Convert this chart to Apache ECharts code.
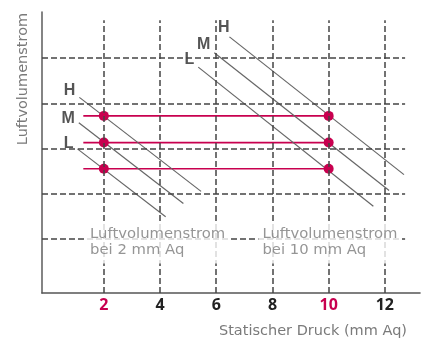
<!DOCTYPE html>
<html>
<head>
<meta charset="utf-8">
<script src="https://cdn.jsdelivr.net/npm/echarts@6/dist/echarts.min.js"></script>
<style>
  html, body { margin: 0; padding: 0; background: #fff; }
  #box { width: 421px; height: 339px; }
</style>
</head>
<body>
<div id="box"></div>
<script>
// ticks and grid levels
const xTicks = [2, 4, 6, 8, 10, 12];
const highlightTicks = [2, 10];
const flowLevels = [1, 2, 3, 4, 5];

// fan speeds and measured flow at the two pressures (red lines)
const speeds = ["H", "M", "L"];
const flowAt2 = [3.72, 3.13, 2.55];
const redStart = 1.27;
const pressurePoints = [2, 10];

// fan curves: [start, end] for the small unit (left) and big unit (right)
const smallH = [[1.13, 4.13], [5.46, 2.05]];
const smallM = [[1.11, 3.57], [4.83, 1.78]];
const smallL = [[1.06, 2.99], [4.20, 1.49]];
const bigH = [[6.47, 5.47], [12.68, 2.42]];
const bigM = [[5.93, 5.12], [12.15, 2.07]];
const bigL = [[5.36, 4.80], [11.59, 1.72]];

const RED = "#c8004f";
const GRID = "#444";
const FONT = "DejaVu Sans";

let myChart = echarts.init(document.getElementById("box"));

// dashed grid, drawn as mark lines so they stop short of the axis ends
let gridLines = [];
xTicks.forEach((x) => {
  gridLines.push([{ coord: [x, -0.2] }, { coord: [x, 5.84] }]);
});
flowLevels.forEach((y) => {
  gridLines.push([{ coord: [-0.2, y] }, { coord: [12.72, y] }]);
});

function curve(pts, name, offset) {
  return {
    type: "line",
    z: 3,
    silent: true,
    symbol: "circle",
    symbolSize: 0,
    showSymbol: true,
    lineStyle: { color: "#666", width: 1.2 },
    itemStyle: { color: "#666" },
    data: [
      {
        value: pts[0],
        label: {
          show: true,
          position: "left",
          distance: 4,
          offset: offset,
          formatter: name,
          fontFamily: "Liberation Sans",
          fontWeight: "bold",
          fontSize: 16,
          color: "#555",
        },
      },
      pts[1],
    ],
  };
}

let series = [];
series.push({
  type: "line",
  data: [],
  z: 1,
  silent: true,
  markLine: {
    silent: true,
    symbol: "none",
    label: { show: false },
    lineStyle: { color: GRID, type: [6, 3], width: 1.5 },
    data: gridLines,
  },
});

// red flow lines
flowAt2.forEach((y) => {
  series.push({
    type: "line",
    z: 2,
    silent: true,
    showSymbol: false,
    lineStyle: { color: RED, width: 1.7 },
    data: [[redStart, y], [pressurePoints[1], y]],
  });
});

series.push(curve(smallH, speeds[0], [0, -7]));
series.push(curve(smallM, speeds[1], [0, -4]));
series.push(curve(smallL, speeds[2], [0, -5]));
series.push(curve(bigH, speeds[0], [4, -9]));
series.push(curve(bigM, speeds[1], [0, -8]));
series.push(curve(bigL, speeds[2], [0, -8]));

// dots where the flow lines meet the pressure lines
let dots = [];
flowAt2.forEach((y) => {
  pressurePoints.forEach((x) => dots.push([x, y]));
});
series.push({
  type: "scatter",
  z: 4,
  silent: true,
  symbolSize: 10,
  itemStyle: { color: RED, opacity: 1 },
  data: dots,
});

// notes
series.push({
  type: "scatter",
  z: 5,
  silent: true,
  symbolSize: 0,
  label: {
    show: true,
    position: "right",
    distance: 0,
    formatter: (p) => p.data.text,
    fontFamily: FONT,
    fontSize: 14.8,
    lineHeight: 16,
    color: "#7a7a7a",
    backgroundColor: "#fff",
    padding: [5, 4, 5, 4],
  },
  data: [
    { value: [1.37, 0.92], text: "Luftvolumenstrom\nbei 2 mm Aq" },
    { value: [7.5, 0.92], text: "Luftvolumenstrom\nbei 10 mm Aq" },
  ],
});

let option = {
  animation: false,
  grid: {
    left: 42,
    right: 1,
    top: 12,
    bottom: 46,
    containLabel: false,
    outerBoundsMode: "none",
  },
  xAxis: {
    type: "value",
    min: -0.2,
    max: 13.25,
    name: "Statischer Druck (mm Aq)",
    nameLocation: "end",
    nameGap: -13,
    nameTextStyle: {
      fontFamily: FONT,
      fontSize: 14.5,
      color: "#7a7a7a",
      align: "right",
      verticalAlign: "top",
      padding: [31, 0, 0, 0],
    },
    axisLine: { onZero: false, lineStyle: { color: "#555", width: 1.6 } },
    axisTick: { show: false },
    splitLine: { show: false },
    axisLabel: {
      customValues: xTicks,
      margin: 4,
      fontFamily: "Open Sans",
      fontWeight: "bold",
      fontSize: 16,
      color: "#222",
      formatter: (v) => (highlightTicks.includes(v) ? "{hi|" + v + "}" : String(v)),
      rich: {
        hi: {
          fontFamily: "Open Sans",
          fontWeight: "bold",
          fontSize: 16,
          color: RED,
        },
      },
    },
  },
  yAxis: {
    type: "value",
    min: -0.2,
    max: 6.02,
    axisLine: { show: true, onZero: false, lineStyle: { color: "#666", width: 1.6 } },
    axisTick: { show: false },
    axisLabel: { show: false },
    splitLine: { show: false },
  },
  graphic: [
    {
      type: "text",
      x: 23,
      y: 79,
      rotation: Math.PI / 2,
      style: {
        text: "Luftvolumenstrom",
        fontFamily: FONT,
        fontSize: 14.5,
        fill: "#7a7a7a",
        textAlign: "center",
        textVerticalAlign: "middle",
      },
    },
  ],
  series: series,
};

myChart.setOption(option);
</script>
</body>
</html>
